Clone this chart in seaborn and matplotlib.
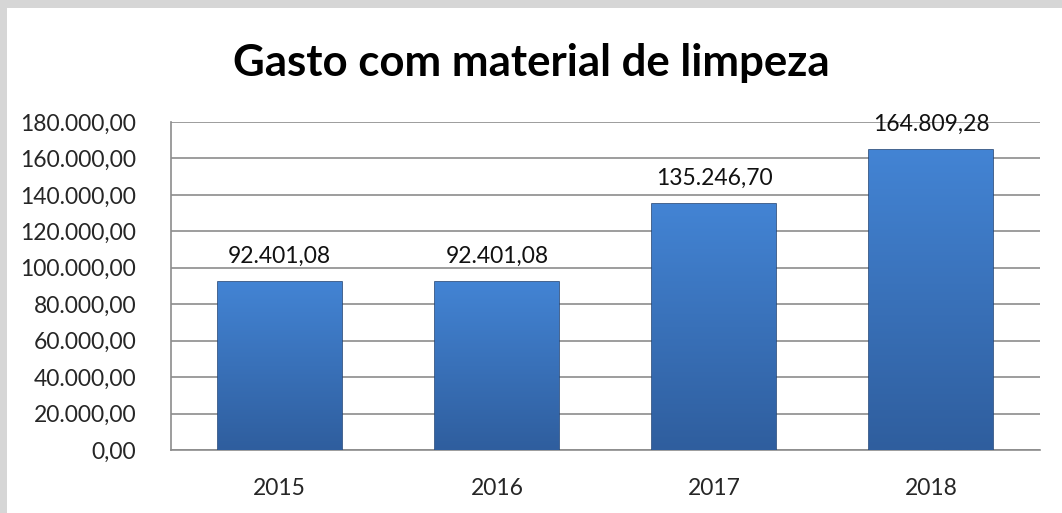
import numpy as np
import pandas as pd
import matplotlib
matplotlib.use("Agg")
import matplotlib.pyplot as plt
from matplotlib.patches import Rectangle
import seaborn as sns

anos = ["2015", "2016", "2017", "2018"]
gastos = [92401.08, 92401.08, 135246.70, 164809.28]
yticks = [0, 20000, 40000, 60000, 80000, 100000, 120000, 140000, 160000, 180000]


def br(v):
    s = f"{v:,.2f}"
    return s.replace(",", "X").replace(".", ",").replace("X", ".")


sns.set_theme(style="white")
plt.rcParams["font.family"] = ["Lato", "DejaVu Sans"]

df = pd.DataFrame({"ano": anos, "gasto": gastos})

fig = plt.figure(figsize=(10.62, 5.13), dpi=100, facecolor="#d6d6d6")
# white chart area with a grey shadow on top/left
fig.patches.append(Rectangle((7 / 1062, 0), 1, 1 - 8 / 513, transform=fig.transFigure,
                             facecolor="white", edgecolor="none", zorder=-10))
ax = fig.add_axes([171 / 1062, (513 - 450) / 513, (1040 - 171) / 1062, (450 - 122) / 513])
ax.set_zorder(2)
ax.patch.set_alpha(0)

sns.barplot(data=df, x="ano", y="gasto", color="#3a74c0", width=0.57,
            edgecolor="#24497d", linewidth=1.2, ax=ax, zorder=3)

# vertical gradient in each bar
grad = np.linspace(0, 1, 256).reshape(-1, 1)
cmap = matplotlib.colors.LinearSegmentedColormap.from_list("b", ["#2f5e9e", "#4384d4"])
for p in ax.patches:
    x0, y0 = p.get_x(), p.get_y()
    w, h = p.get_width(), p.get_height()
    im = ax.imshow(grad, cmap=cmap, aspect="auto", origin="lower",
                   extent=[x0, x0 + w, y0, y0 + h], zorder=3.5)
    im.set_clip_path(p)

for i, v in enumerate(gastos):
    ax.text(i, v + 8000, br(v), ha="center", va="bottom", fontsize=16.5, color="#111111",
            zorder=5, clip_on=False)

ax.set_xlim(-0.5, 3.5)
ax.set_ylim(0, 180000)
ax.set_yticks(yticks)
ax.set_yticklabels([br(t) for t in yticks], fontsize=16.5)
ax.tick_params(axis="x", labelsize=16.5, length=0, pad=20)
ax.tick_params(axis="y", length=0, pad=25)
ax.yaxis.grid(True, color="#8c8c8c", linewidth=1.2, zorder=0)
ax.set_axisbelow(True)
for s in ["top", "right"]:
    ax.spines[s].set_visible(False)
ax.spines["left"].set_color("#8c8c8c")
ax.spines["bottom"].set_color("#8c8c8c")
ax.spines["left"].set_linewidth(1.2)
ax.spines["bottom"].set_linewidth(1.2)
ax.set_xlabel("")
ax.set_ylabel("")

fig.text(0.5, 1 - 63 / 513, "Gasto com material de limpeza", ha="center", va="center",
         fontsize=31.5, fontweight="bold", color="black")

fig.savefig("out.png", dpi=100, facecolor=fig.get_facecolor())
